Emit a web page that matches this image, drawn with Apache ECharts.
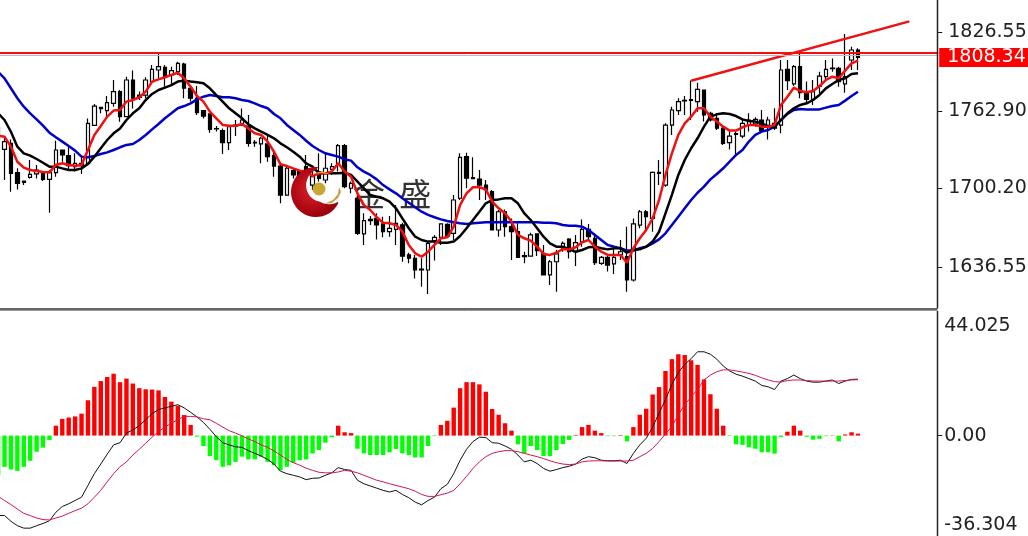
<!DOCTYPE html>
<html>
<head>
<meta charset="utf-8">
<script src="https://cdn.jsdelivr.net/npm/echarts@6/dist/echarts.min.js"></script>
<style>html,body{margin:0;padding:0;background:#fff;overflow:hidden}#c{width:1028px;height:536px}</style>
</head>
<body>
<div id="c"></div>
<script>
const slots = 147;
const categories = Array.from({length: slots}, (_, i) => String(i));

const opens = [1750,
1731.9,1736.8,1713,1706.3,1709.3,1712,1712.5,1707.6,1713,1731.4,
1726.8,1717.9,1720.6,1720.6,1751.4,1766,1763.3,1769.2,1778.7,1758.4,
1788.1,1775.9,1775.9,1786.7,1796.2,1798.4,1792.2,1794.9,1801,1781.4,
1773.3,1763.3,1760.6,1748.7,1747.1,1737.3,1751.6,1751.6,1750.8,1737.6,
1736.3,1736.3,1726.8,1718.4,1694.9,1714.7,1713.9,1717.9,1703,1713.9,
1707.1,1715.7,1720.6,1734.9,1700.4,1692.3,1663.4,1675.2,1676,1671.5,
1665.3,1667.1,1670.7,1646.4,1643.7,1635,1634.2,1658,1660.7,1671.2,
1663.9,1692.3,1726,1709,1707.9,1703,1697.7,1666.6,1681.4,1669.3,
1665.3,1645.8,1645.5,1663.4,1647.7,1630.2,1640.9,1651.8,1659.3,1649,
1657.2,1667.1,1659.9,1639.6,1644.5,1639.1,1646.4,1645,1626.1,1670.6,
1681.4,1676,1713.3,1703,1751.6,1763.3,1771.6,1771.6,1770.6,1780,
1761.1,1757,1749,1737.3,1744.1,1742.7,1751.6,1752.5,1755.7,1750.3,
1753,1751.6,1796.7,1784.9,1798.9,1777.8,1772.4,1783.2,1790.8,1797.3,
1797.5,1784.9,1804.3,1812.4];
const closes = [1740,
1738.2,1712.5,1704.4,1705.2,1711.7,1715.2,1707.6,1713,1731.4,1727.4,
1718.7,1720.6,1718.7,1753,1767,1764.9,1769.7,1778.7,1758.4,1788.1,
1773.3,1774,1788.1,1796.7,1798.9,1790.3,1795.7,1801.6,1781.4,1773.3,
1761.6,1758.9,1748.1,1748.4,1737.3,1750.3,1750.8,1755.7,1736.8,1737.1,
1740.9,1726,1718.4,1694.9,1716.6,1711.2,1709.8,1713.9,1709.8,1708.4,
1716.6,1717.9,1734.9,1701.7,1704.4,1663.9,1674.2,1674.2,1670.7,1665.3,
1667.9,1672,1645.5,1643.7,1634.2,1634.2,1655.8,1660.7,1671.5,1661.7,
1690.9,1725.5,1708.5,1708.2,1703,1699,1666.6,1681.4,1669.3,1665.3,
1644.5,1645,1662.6,1649.9,1630.2,1640.9,1647.2,1655.8,1649,1656.3,
1667.1,1661.2,1640.1,1644.5,1638.2,1644.5,1649,1626.1,1671.5,1681.4,
1677.4,1713.3,1712.5,1751.6,1763.8,1770.6,1771.1,1772.2,1780.5,1759.8,
1755.7,1749,1736.8,1742.7,1744.6,1753,1755.7,1756.2,1747.1,1755.7,
1749,1796.2,1787.6,1798.9,1777.8,1772.4,1778.7,1791.3,1796.7,1797.8,
1786.8,1790.8,1812.4,1806.5];
const lows = [1735,
1707.1,1697.6,1699.5,1703,1708.4,1708.4,1706.3,1680.6,1709.8,1721.9,
1715.2,1713.9,1712,1719.2,1750.8,1761.1,1758.4,1766.5,1754.3,1757.9,
1765.1,1771.9,1773.3,1785.9,1789.5,1782.7,1784,1792.2,1773.3,1770.6,
1759.7,1757,1745.4,1746.3,1728.2,1731.4,1742.7,1750.8,1734.1,1734.1,
1720.6,1721.9,1709.8,1688.2,1694.9,1708.4,1707.1,1712.5,1699,1705.8,
1704.4,1711.2,1713.9,1700.4,1696.3,1662.6,1654.5,1670.7,1659,1660.7,
1661.2,1654.5,1640.9,1639.6,1627.4,1620.7,1614.8,1641.8,1654.5,1660.7,
1658.5,1690.9,1700.4,1708,1690.9,1690.9,1666.6,1661.2,1661.2,1642.3,
1644.5,1639.6,1645,1645.5,1630.2,1622,1616.6,1649,1643.6,1637.4,
1653.1,1658.5,1638.2,1638.2,1632.9,1631,1642.3,1616.6,1624.8,1668,
1665.2,1665.2,1703,1701.7,1743.6,1759.8,1759.8,1755.7,1762.4,1754.4,
1754.4,1747.6,1735.5,1731.9,1728.2,1740.9,1746.3,1750.3,1746.3,1740,
1747.6,1744.9,1780,1783.2,1773.3,1769.2,1767.9,1777.3,1788.1,1794.8,
1782.7,1777.8,1796.2,1796.2];
const highs = [1755,
1742.2,1740,1716.6,1706.3,1723.3,1719.2,1713.9,1715.2,1738.9,1731.4,
1734.1,1728.7,1726,1757,1768.7,1766,1775.1,1788.1,1780,1790.8,
1795.7,1778.7,1790.3,1800.3,1809.7,1800.3,1798.9,1802.9,1802.1,1784,
1783.2,1763.8,1761.1,1750.8,1748.9,1750.8,1755.7,1765.1,1759.7,1739.5,
1742.2,1743.6,1731.4,1720.6,1717.9,1716.6,1715.2,1727.4,1715.2,1728.7,
1728.7,1720.6,1736.3,1736.3,1705.8,1699,1680.1,1677.9,1680.1,1677.4,
1677.9,1686.9,1672.5,1648.2,1646.4,1643.7,1657.2,1662.6,1672,1672,
1695,1728.7,1729.2,1725.5,1715.2,1707.1,1699,1682.8,1683.3,1676,
1672,1649,1664.4,1663.9,1654.5,1642.3,1650.4,1657.2,1659.9,1662.6,
1675.2,1671.5,1663.9,1645.5,1645.5,1651.8,1658.5,1669.3,1676,1682.8,
1682.8,1713.9,1723.3,1753,1766.5,1773.3,1775.1,1787.6,1785.9,1780.5,
1762.4,1761.1,1750.3,1747.6,1746.3,1755.7,1761.1,1757.9,1763.8,1758.4,
1765.2,1804.3,1804.3,1800.2,1809.7,1786.8,1788.1,1794.8,1804.3,1805.6,
1798.9,1825.4,1815.1,1813.8];

const redMA = [1743,
1742.2,1734.1,1721.9,1717.1,1715.2,1714.4,1713.6,1713.3,1719.3,1720.6,
1719.3,1718.7,1719.3,1731.4,1743.6,1750.8,1758.4,1763.3,1763.8,1770.6,
1771.9,1774.1,1778.7,1786.8,1788.6,1790.3,1792.2,1794,1789.4,1782.7,
1775.1,1770.6,1762.5,1757.1,1751.7,1751.1,1751.1,1752.5,1748.9,1744.9,
1743.6,1738.1,1730,1720,1718.4,1716.5,1714.7,1713.9,1710.3,1712.5,
1712.5,1713.9,1720.6,1713.9,1709.8,1696.3,1686.9,1682.8,1676.9,1672.5,
1672,1670.7,1665.3,1654.5,1647.7,1645,1649,1654.5,1659.9,1660.7,
1669.3,1686.9,1696.3,1701.2,1701.2,1699.5,1689.6,1684.2,1680.1,1673.4,
1662.6,1659.9,1658,1653.1,1647.2,1646.4,1648.2,1651.2,1650.9,1652.6,
1656.6,1658.5,1653.1,1649,1646.4,1646.4,1646.4,1640.1,1651.8,1659.9,
1666.6,1676,1690.9,1711.2,1728.7,1743.6,1753,1758.4,1765.2,1765.2,
1758.4,1754.4,1750.3,1747.1,1747.1,1749.8,1751.7,1751.7,1750.3,1750.3,
1751.7,1767.9,1774.6,1781.9,1779.2,1778.1,1779.2,1783.2,1788.1,1790.8,
1789.5,1795.7,1801.6,1803.8];
const blackMA = [1761.1,
1755.7,1746.2,1734.1,1728.7,1726.8,1724.1,1721.1,1717.9,1717.9,1716.5,
1715.2,1715.2,1716.5,1720,1726,1732.8,1739.5,1744.9,1748.9,1755.7,
1761.1,1765.2,1771.9,1776.8,1780,1781.9,1784,1786.8,1787.6,1786.8,
1786.2,1785.4,1781.4,1775.9,1770.6,1765.2,1761.1,1757.1,1752.2,1748.9,
1746.2,1743.6,1740.9,1736.8,1733.6,1730,1726,1720.6,1717.9,1712.5,
1712.5,1712.5,1712.5,1713,1711.2,1705.8,1700.4,1694.9,1693.6,1692.3,
1689.6,1684.2,1676,1668,1661.2,1658.5,1657.2,1657.2,1656.3,1656.3,
1657.2,1661.7,1668,1674.7,1681.4,1688.2,1690.9,1691.4,1692.3,1692.3,
1688.2,1680.1,1674.7,1668,1661.2,1655.8,1653.1,1653.1,1650.9,1649,
1650.4,1652.6,1653.1,1651.8,1650.9,1651.8,1651.8,1648.2,1650.4,1651,
1653.1,1657.2,1665.2,1680.1,1695,1711.2,1723.3,1732.8,1740.9,1750.3,
1758.4,1760.3,1761.1,1760.6,1758.9,1756.2,1754.9,1754.4,1753,1750.8,
1750.3,1755.7,1761.1,1765.2,1767.9,1769.2,1771.9,1776,1781.3,1784.9,
1788.1,1789.5,1793,1793.5];
const blueMA = [1794.8,
1789.4,1781.4,1773.3,1766.5,1761.1,1756.2,1751.1,1745.4,1741.7,1738.2,
1734.6,1730.9,1726,1725.5,1726.5,1728.2,1729.5,1731.4,1733.6,1735.5,
1736.3,1739.5,1743.6,1748.1,1752.5,1757.1,1761.1,1765.2,1767,1769.2,
1772.4,1774.6,1775.9,1775.1,1774.1,1774.1,1773.3,1771.9,1771.1,1769.2,
1767,1765.2,1760.6,1757.1,1751.7,1747.6,1743.6,1738.9,1734.6,1731.4,
1728.7,1727.4,1726,1723.8,1722.8,1717.4,1713.9,1711.2,1707.6,1703,
1699.5,1696.3,1692.3,1688.7,1685,1681.4,1678.8,1676.9,1675.2,1673.9,
1672.8,1672,1671.5,1672,1672.5,1672.8,1672.8,1672.8,1673.1,1672.8,
1672.8,1672.8,1672.8,1672.8,1672.5,1672.5,1672,1670.7,1670.1,1670.1,
1669.3,1666.6,1662.6,1658.5,1654.5,1653.1,1651.8,1649.9,1649.9,1651.8,
1653.1,1655.8,1659,1663.9,1670.6,1677.4,1684.2,1690.9,1696.8,1701.7,
1707.6,1712,1716.6,1722,1727.4,1731.4,1738.2,1743.6,1746.3,1747.6,
1750.3,1755.7,1760.6,1763.8,1764.6,1764.3,1764.3,1764.3,1765.7,1767,
1767.9,1771.4,1775.1,1778.6];

const histogram = [-14.5,
-11.4,-12.4,-12.9,-11.4,-9.2,-5.9,-4.4,-1.6,3.6,6.1,
6.6,7,8,12.9,17.8,19.9,21.4,22.6,19.5,20.8,
19,17.3,16.9,16.8,16.5,14.1,12.4,10.9,7.5,3.9,
-0.4,-3.8,-7.5,-9,-11.4,-10.9,-9.6,-7.7,-8.7,-8.7,
-7.7,-9.6,-10.8,-12.7,-11.4,-9.9,-9,-8.7,-6.5,-5.3,
-2.6,-0.6,3.6,1.2,0.9,-4.8,-6.5,-7.1,-7.1,-7.1,
-6.1,-4.9,-6.5,-7.1,-8,-8,-3.8,-0.2,3.9,5.4,
10.2,17.3,19.5,19.5,18.7,16,9.7,7.6,4.5,1.8,
-3.2,-6.5,-3.8,-5.3,-7.5,-7.5,-5.3,-3.1,-1.6,0.2,
3.1,3.9,1.8,0.9,-0.2,-0.2,0.2,-2.1,3.1,7.6,
9.8,15,17.7,23.6,27.9,29.7,29.4,27.5,25.8,20.5,
15.1,9.8,3.6,-0.2,-3.2,-3.4,-4.3,-4.8,-6.1,-6.1,
-6.6,-0.5,1.4,3.6,1.8,-0.4,-1.5,-1.2,-0.2,0.1,
-2.1,0.4,1.2,0.7];
const macdLine = [-29.2,
-29.2,-31.3,-32.9,-33.8,-33.8,-32.9,-32.1,-31.1,-28,-25.9,
-24.9,-23.7,-22.5,-18.2,-13.9,-10.4,-6.8,-3.4,-2.6,0.9,
2.1,3.6,5.8,8,9.5,10.1,10.7,11.3,10.1,8.5,
6.8,4.8,2.3,-0.4,-2.6,-3.4,-4.1,-4.3,-5.5,-6.5,
-7.5,-8.7,-10.4,-13,-13.9,-14.5,-15.1,-16.1,-15.6,-15.5,
-14.5,-13.6,-11.7,-12.4,-12.7,-16.3,-17.6,-18.4,-19.2,-20,
-20.6,-20,-21.5,-22.7,-24.3,-25.3,-23.7,-22.5,-19.4,-17.8,
-13.9,-9,-5,-2.2,-0.6,-0.7,-2.6,-2.8,-3.8,-5,
-7.1,-9.6,-9,-10.2,-12,-13,-12.4,-11.7,-11.2,-10.4,
-8.6,-7.7,-8.1,-9,-9.2,-9.2,-9,-10.2,-6.5,-3.4,
-1,3.1,8.2,13.1,18.7,23,26,28.1,30.6,30.6,
29.7,27.9,25.4,23.6,22.4,21.7,20.8,19.9,18.3,17.8,
16.8,19.9,20.8,22.1,20.8,19.9,19.5,19.5,19.9,20.3,
19,19.9,20.5,20.6];
const signalLine = [-22.2,
-23.7,-25.2,-26.8,-28.4,-29.2,-30.1,-30.7,-30.8,-30.1,-29.4,
-28.4,-27.4,-26.5,-24.9,-22.5,-20,-16.9,-13.9,-11.4,-9.6,
-7.1,-5,-2.8,-0.6,1.5,3.1,4.5,5.8,7,7,
6.8,6.1,5.8,4.5,3.1,1.8,0.9,-0.1,-1.2,-2.2,
-3.4,-4.3,-5.6,-7.1,-8.7,-9.9,-10.8,-11.9,-12.7,-13.4,
-13.6,-13.6,-13.3,-12.7,-13,-13.6,-14.5,-15.4,-16.3,-16.9,
-17.6,-18.2,-18.8,-19.4,-20.3,-21.5,-22.2,-22.2,-21.6,-21,
-20,-17.6,-14.9,-12,-9.6,-7.7,-6.5,-5.9,-5.5,-5.5,
-5.9,-6.5,-7.1,-7.7,-8.4,-9.2,-9.9,-10.4,-10.6,-10.4,
-9.6,-9.3,-9.2,-9.2,-9.3,-9.3,-9.3,-9.3,-9,-7.7,
-6.5,-4.7,-2.2,0.6,3.3,7.6,11.3,14.1,16.8,20.3,
22.1,23.3,24,24,23.6,23.2,22.7,22,21.1,20.3,
19.7,19.5,20.1,20.3,20.3,20.1,19.9,19.9,19.9,19.9,
19.9,20.1,20.3,20.4];

const priceTicks = [1826.55, 1762.90, 1700.20, 1636.55];
const macdTicks = [-36.304, 0, 44.025];
const resistance = 1810;
const lastPrice = 1808.34;
const trendX = ['108', '142'];
const trendY = [1787.5, 1835.6];

const candles = opens.map((o, i) => [o, closes[i], lows[i], highs[i]]);
const FONT = '"DejaVu Sans"';
const labelBase = {fontFamily: FONT, fontSize: 19, color: '#222', showMinLabel: true, showMaxLabel: true, padding: [2, 0, 0, 0]};

// logo crescent outline for the watermark
function crescent() {
  const pts = [];
  const rad = d => d * Math.PI / 180;
  for (let a = -85; a >= -335.6; a -= 8) pts.push([316 + 25 * Math.cos(rad(a)), 192 + 25 * Math.sin(rad(a))]);
  pts.push([338, 202]);
  for (let a = 55; a <= 253; a += 8) {
    const r = a < 100 ? 22 - 6 * (a - 47) / 53 : 16 + 1.7 * (a - 100) / 153;
    pts.push([323 + r * Math.cos(rad(a)), 186 + r * Math.sin(rad(a))]);
  }
  return pts;
}

const chart = echarts.init(document.getElementById('c'), null, {renderer: 'canvas'});
const lineS = (name, data, color, width, x, y) => ({
  name, type: 'line', data, xAxisIndex: x, yAxisIndex: y, showSymbol: false, symbol: 'none', smooth: false,
  lineStyle: {color, width}, itemStyle: {color}, silent: true, animation: false
});
chart.setOption({
  animation: false,
  backgroundColor: '#fff',
  grid: [
    {left: -5.1, top: 0, width: 943.3, height: 308, outerBoundsMode: 'none'},
    {left: -5.1, top: 315, width: 943.3, height: 220, outerBoundsMode: 'none'}
  ],
  xAxis: [0, 1].map(g => ({
    type: 'category', gridIndex: g, data: categories, boundaryGap: true,
    axisLine: {show: false}, axisTick: {show: false}, axisLabel: {show: false}, splitLine: {show: false}
  })),
  yAxis: [
    {type: 'value', gridIndex: 0, position: 'right', min: 1603.42, max: 1852.9, scale: true,
     axisLine: {show: false}, splitLine: {show: false},
     axisTick: {show: true, length: 4, lineStyle: {color: '#111'}, customValues: priceTicks},
     axisLabel: Object.assign({}, labelBase, {margin: 10, customValues: priceTicks, formatter: v => v.toFixed(2)})},
    {type: 'value', gridIndex: 1, position: 'right', min: -36.304, max: 44.025,
     axisLine: {show: false}, splitLine: {show: false},
     axisTick: {show: true, length: 4, lineStyle: {color: '#111'}, customValues: [0]},
     axisLabel: Object.assign({}, labelBase, {margin: 6, customValues: macdTicks,
       verticalAlignMinLabel: 'bottom', verticalAlignMaxLabel: 'top',
       formatter: v => v === 0 ? '0.00' : String(v)})}
  ],
  series: [
    {type: 'candlestick', name: 'price', data: candles, xAxisIndex: 0, yAxisIndex: 0, barWidth: 4, silent: true,
     itemStyle: {color: '#fff', color0: '#000', borderColor: '#000', borderColor0: '#000', borderWidth: 1.2},
     markLine: {silent: true, symbol: 'none', animation: false, precision: 2,
       data: [
         {yAxis: lastPrice, lineStyle: {color: '#cdb4b4', width: 1, type: 'solid'},
          label: {show: true, position: 'end', distance: 1, formatter: () => lastPrice.toFixed(2),
            backgroundColor: '#ff0000', color: '#fff', fontFamily: FONT, fontSize: 19,
            padding: [0, 20, 0, 8], lineHeight: 19, offset: [0, 2.5]}},
         {yAxis: resistance, lineStyle: {color: '#f01010', width: 2, type: 'solid'}, label: {show: false}}
       ]}},
    lineS('blue', blueMA, '#0000c8', 2.5, 0, 0),
    lineS('black', blackMA, '#000000', 2.5, 0, 0),
    lineS('red', redMA, '#f01010', 2.5, 0, 0),
    lineS('trend', trendX.map((x, i) => [x, trendY[i]]), '#f01010', 2.5, 0, 0),
    {type: 'bar', name: 'hist', data: histogram, xAxisIndex: 1, yAxisIndex: 1, barWidth: 4.4, silent: true,
     itemStyle: {color: p => p.value >= 0 ? '#ff0000' : '#00ff00'}},
    lineS('macd', macdLine, '#111111', 1, 1, 1),
    lineS('signal', signalLine, '#d01850', 1, 1, 1)
  ],
  graphic: [
    {type: 'text', z: 1, silent: true, style: {x: 353, y: 178, text: '金  盛', font: '32px "Noto Sans CJK SC"', fill: '#333'}},
    {type: 'polygon', z: 50, silent: true, shape: {points: crescent()},
     style: {fill: new echarts.graphic.RadialGradient(0.45, 0.45, 0.6, [{offset: 0, color: '#e02028'}, {offset: 1, color: '#98000c'}])}},
    {type: 'circle', z: 51, silent: true, shape: {cx: 319, cy: 189, r: 6.5}, style: {fill: '#c8a830'}},
    {type: 'polygon', z: 51, silent: true, shape: {points: [[339,187],[338,194],[333,200],[324,204],[332,203],[338,198],[341,192]]}, style: {fill: '#c8a040'}},
    {type: 'polygon', z: 51, silent: true, shape: {points: [[312,174],[322,171],[332,175],[322,173]]}, style: {fill: '#c8a040'}},
    {type: 'line', z: 60, silent: true, shape: {x1: 937.5, y1: 0, x2: 937.5, y2: 308.5}, style: {stroke: '#222', lineWidth: 1.5}},
    {type: 'line', z: 60, silent: true, shape: {x1: 937.5, y1: 311, x2: 937.5, y2: 536}, style: {stroke: '#222', lineWidth: 1.5}},
    {type: 'line', z: 60, silent: true, shape: {x1: 0, y1: 309, x2: 937.5, y2: 309}, style: {stroke: '#333', lineWidth: 1.5}},
    {type: 'line', z: 60, silent: true, shape: {x1: 0, y1: 310.5, x2: 937.5, y2: 310.5}, style: {stroke: '#999', lineWidth: 1}}
  ]
});
</script>
</body>
</html>
